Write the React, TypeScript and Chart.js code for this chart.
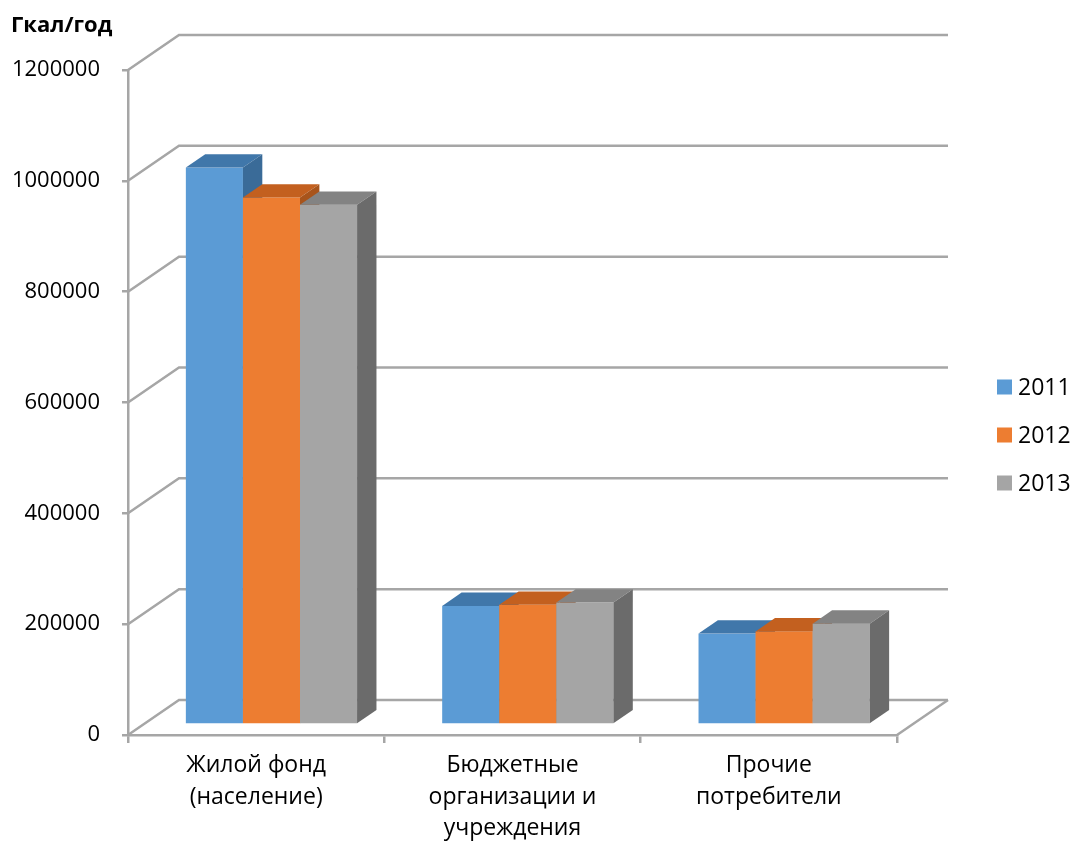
import React, { useEffect, useRef } from "react";
import { Chart, registerables } from "chart.js";

Chart.register(...registerables);

const categories: string[][] = [
  ["Жилой фонд", "(население)"],
  ["Бюджетные", "организации и", "учреждения"],
  ["Прочие", "потребители"],
];
const seriesNames = ["2011", "2012", "2013"];
const values2011 = [1005000, 214000, 164000];
const values2012 = [951000, 216000, 168000];
const values2013 = [938000, 220000, 182000];
const yTicks = [0, 200000, 400000, 600000, 800000, 1000000, 1200000];
const unitTitle = "Гкал/год";

const frontColors = ["#5b9bd5", "#ed7d31", "#a5a5a5"];
const topColors = ["#4077aa", "#c3601f", "#838383"];
const sideColors = ["#3a6b98", "#a8541b", "#6b6b6b"];

const GRID = "#a6a6a6";
const FONT = "'Open Sans', 'Liberation Sans', sans-serif";
const DX = 51;
const DY = -35;
const F0 = 0.3;
const F1 = 0.68;

const threeD = {
  id: "threeD",
  beforeDatasetsDraw(chart: any) {
    const ctx = chart.ctx;
    const ys = chart.scales.y;
    const area = chart.chartArea;
    ctx.save();
    ctx.strokeStyle = GRID;
    ctx.lineWidth = 2.5;
    ctx.lineJoin = "miter";
    yTicks.forEach((v) => {
      const y = ys.getPixelForValue(v);
      ctx.beginPath();
      ctx.moveTo(area.left, y);
      ctx.lineTo(area.left + DX, y + DY);
      ctx.lineTo(area.right + DX, y + DY);
      ctx.stroke();
    });
    ctx.beginPath();
    ctx.moveTo(area.right, area.bottom);
    ctx.lineTo(area.right + DX, area.bottom + DY);
    ctx.stroke();

    const fx = F0 * DX, fy = F0 * DY;
    const bx = (F1 - F0) * DX, by = (F1 - F0) * DY;
    const n = chart.data.labels.length;
    for (let i = 0; i < n; i++) {
      chart.data.datasets.forEach((_: any, j: number) => {
        const el = chart.getDatasetMeta(j).data[i];
        if (!el) return;
        const l = el.x - el.width / 2 + fx;
        const r = el.x + el.width / 2 + fx;
        const t = el.y + fy;
        const b = el.base + fy;
        ctx.fillStyle = frontColors[j];
        ctx.fillRect(l, t, r - l, b - t);
        ctx.fillStyle = topColors[j];
        ctx.beginPath();
        ctx.moveTo(l, t);
        ctx.lineTo(l + bx, t + by);
        ctx.lineTo(r + bx, t + by);
        ctx.lineTo(r, t);
        ctx.closePath();
        ctx.fill();
        ctx.fillStyle = sideColors[j];
        ctx.beginPath();
        ctx.moveTo(r, t);
        ctx.lineTo(r + bx, t + by);
        ctx.lineTo(r + bx, b + by);
        ctx.lineTo(r, b);
        ctx.closePath();
        ctx.fill();
      });
    }
    ctx.restore();
    return false;
  },
  afterDraw(chart: any) {
    const ctx = chart.ctx;
    ctx.save();
    ctx.fillStyle = "#000";
    ctx.font = `bold 22px ${FONT}`;
    ctx.textBaseline = "middle";
    ctx.textAlign = "left";
    ctx.fillText(unitTitle, 11, 26);
    ctx.font = `23px ${FONT}`;
    const legY = [387, 435, 483];
    seriesNames.forEach((name, j) => {
      ctx.fillStyle = frontColors[j];
      ctx.fillRect(997, legY[j] - 7.5, 15, 15);
      ctx.fillStyle = "#000";
      ctx.fillText(name, 1018, legY[j] + 1);
    });
    ctx.restore();
  },
};

export default function App() {
  const ref = useRef<HTMLCanvasElement>(null);
  useEffect(() => {
    document.body.style.margin = "0";
    if (!ref.current) return;
    const chart = new Chart(ref.current, {
      type: "bar",
      data: {
        labels: categories as any,
        datasets: [
          { label: seriesNames[0], data: values2011, backgroundColor: frontColors[0] },
          { label: seriesNames[1], data: values2012, backgroundColor: frontColors[1] },
          { label: seriesNames[2], data: values2013, backgroundColor: frontColors[2] },
        ],
      },
      options: {
        animation: false,
        responsive: false,
        events: [],
        layout: { padding: { top: 70, right: 179, bottom: 0, left: 0 } },
        datasets: { bar: { barPercentage: 1, categoryPercentage: 0.668 } } as any,
        plugins: { legend: { display: false }, tooltip: { enabled: false }, title: { display: false } },
        scales: {
          x: {
            afterFit: (s: any) => { s.height = 111; },
            border: { display: true, color: GRID, width: 2.5 },
            grid: { display: true, drawOnChartArea: false, offset: true, tickLength: 8, color: GRID, lineWidth: 2.5 },
            ticks: { color: "#000", font: { family: FONT, size: 23, lineHeight: 1.39 }, maxRotation: 0, autoSkip: false, padding: 6 },
          },
          y: {
            min: 0,
            max: 1200000,
            afterFit: (s: any) => { s.width = 128; },
            border: { display: true, color: GRID, width: 2.5 },
            grid: { display: true, drawOnChartArea: false, tickLength: 6, color: GRID, lineWidth: 2.5 },
            ticks: { stepSize: 200000, color: "#000", font: { family: FONT, size: 22 }, padding: 22, callback: (v: any) => String(v) },
          },
        },
      },
      plugins: [threeD],
    });
    return () => chart.destroy();
  }, []);
  return <canvas ref={ref} width={1076} height={846} style={{ display: "block" }} />;
}
